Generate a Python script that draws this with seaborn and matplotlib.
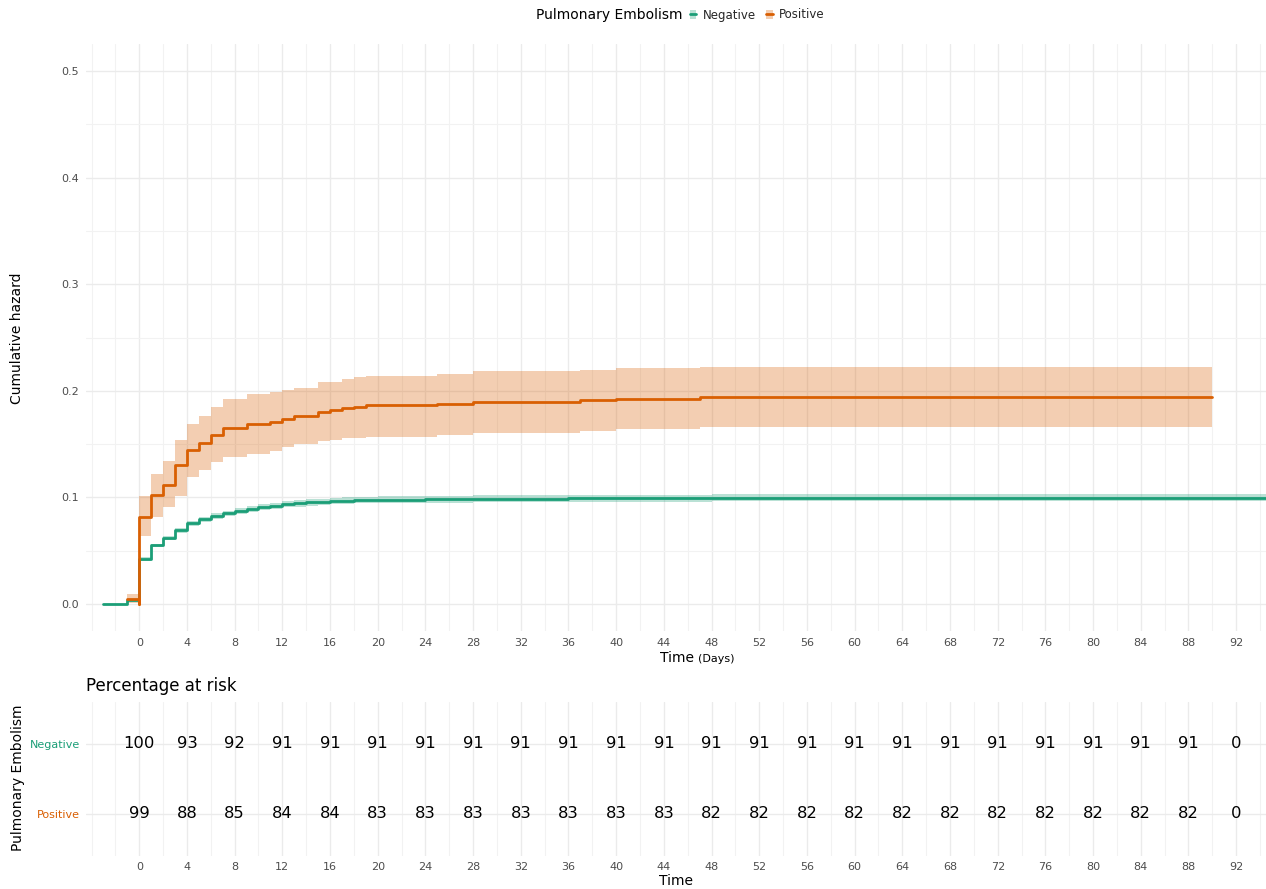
import matplotlib
matplotlib.use("Agg")
import matplotlib.pyplot as plt
import seaborn as sns
import pandas as pd
from matplotlib.patches import Patch
from matplotlib.lines import Line2D
from matplotlib.ticker import FixedLocator, FormatStrFormatter

sns.set_theme(style="white")
plt.rcParams["font.family"] = ["DejaVu Sans"]

# Group names and colours
groups = ["Negative", "Positive"]
group_colors = {"Negative": "#1B9E77", "Positive": "#D95F02"}

# Cumulative hazard, PE negative (step times, estimate, 95% band)
neg_time = [-3, -1, 0, 1, 2, 3, 4, 5, 6, 7, 8, 9, 10, 11, 12, 13, 14, 15, 16,
            17, 18, 20, 24, 28, 36, 48, 95]
neg_haz = [0.0, 0.004, 0.0422, 0.0550, 0.0620, 0.0690, 0.0757, 0.0795, 0.0826,
           0.0851, 0.0872, 0.0891, 0.0907, 0.0922, 0.0935, 0.0945, 0.0954,
           0.0960, 0.0966, 0.0971, 0.0976, 0.0980, 0.0984, 0.0988, 0.0992,
           0.0996, 0.0996]
neg_lo = [0.0, 0.003, 0.0405, 0.0532, 0.0600, 0.0668, 0.0734, 0.0771, 0.0801,
          0.0825, 0.0845, 0.0864, 0.0879, 0.0893, 0.0906, 0.0915, 0.0924,
          0.0930, 0.0935, 0.0940, 0.0945, 0.0948, 0.0952, 0.0956, 0.0960,
          0.0964, 0.0964]
neg_hi = [0.0, 0.005, 0.0439, 0.0568, 0.0640, 0.0712, 0.0780, 0.0819, 0.0851,
          0.0877, 0.0899, 0.0918, 0.0935, 0.0951, 0.0964, 0.0975, 0.0984,
          0.0990, 0.0997, 0.1002, 0.1007, 0.1012, 0.1016, 0.1020, 0.1024,
          0.1028, 0.1028]

# Cumulative hazard, PE positive
pos_time = [-1, 0, 0, 1, 2, 3, 4, 5, 6, 7, 9, 11, 12, 13, 15, 16, 17, 18, 19,
            25, 28, 37, 40, 47, 90]
pos_haz = [0.005, 0.0, 0.082, 0.102, 0.112, 0.130, 0.1445, 0.151, 0.1585,
           0.165, 0.1685, 0.171, 0.174, 0.176, 0.1804, 0.182, 0.1842, 0.1851,
           0.1867, 0.1876, 0.1898, 0.1910, 0.1925, 0.1938, 0.1938]
pos_lo = [0.001, 0.0, 0.064, 0.082, 0.091, 0.101, 0.119, 0.126, 0.1335, 0.138,
          0.141, 0.1435, 0.147, 0.150, 0.153, 0.154, 0.1554, 0.1555, 0.157,
          0.1585, 0.160, 0.1625, 0.1642, 0.1658, 0.1658]
pos_hi = [0.009, 0.0, 0.101, 0.122, 0.134, 0.154, 0.169, 0.176, 0.185, 0.192,
          0.1967, 0.1992, 0.201, 0.203, 0.208, 0.208, 0.211, 0.2133, 0.2142,
          0.2158, 0.2186, 0.2195, 0.221, 0.2226, 0.2226]

# Percentage at risk table
risk_times = list(range(0, 93, 4))
neg_risk = [100, 93, 92] + [91] * 20 + [0]
pos_risk = [99, 88, 85, 84, 84, 83, 83, 83, 83, 83, 83, 83] + [82] * 11 + [0]

x_ticks = list(range(0, 93, 4))
x_minor = list(range(-4, 96, 2))
y_ticks = [0.0, 0.1, 0.2, 0.3, 0.4, 0.5]
y_minor = [0.05, 0.15, 0.25, 0.35, 0.45]

W, H = 1266, 889


def box(left, top, right, bottom):
    return [left / W, 1 - bottom / H, (right - left) / W, (bottom - top) / H]


fig = plt.figure(figsize=(W / 100, H / 100), dpi=100)
ax = fig.add_axes(box(85.6, 44.4, 1266, 630.7))
tab = fig.add_axes(box(85.6, 702, 1266, 856))

grid_major = dict(color="#EBEBEB", linewidth=1.0)
grid_minor = dict(color="#F2F2F2", linewidth=0.8)

# ---- cumulative hazard panel ----
curves = {
    "Negative": (neg_time, neg_haz, neg_lo, neg_hi),
    "Positive": (pos_time, pos_haz, pos_lo, pos_hi),
}
for g in groups:
    t, h, lo, hi = curves[g]
    ax.fill_between(t, lo, hi, step="post", color=group_colors[g],
                    alpha=0.3, linewidth=0, zorder=2)
for g in groups:
    t, h, lo, hi = curves[g]
    df = pd.DataFrame({"time": t, "hazard": h})
    sns.lineplot(data=df, x="time", y="hazard", estimator=None, sort=False,
                 drawstyle="steps-post", color=group_colors[g], linewidth=2.0,
                 ax=ax, legend=False, zorder=3)

ax.set_xlim(-4.5, 94.5)
ax.set_ylim(-0.025, 0.525)
ax.xaxis.set_major_locator(FixedLocator(x_ticks))
ax.xaxis.set_minor_locator(FixedLocator(x_minor))
ax.yaxis.set_major_locator(FixedLocator(y_ticks))
ax.yaxis.set_minor_locator(FixedLocator(y_minor))
ax.yaxis.set_major_formatter(FormatStrFormatter("%.1f"))
ax.grid(which="major", **grid_major)
ax.grid(which="minor", **grid_minor)
ax.set_axisbelow(True)
for s in ax.spines.values():
    s.set_visible(False)
ax.tick_params(which="major", length=3, width=0.9, color="#333333",
               labelsize=8, labelcolor="#4D4D4D", pad=2)
ax.tick_params(which="minor", length=0)
ax.set_xlabel("")
ax.set_ylabel("")

fig.text(17 / W, 1 - 338 / H, "Cumulative hazard", rotation=90,
         ha="center", va="center", fontsize=10, color="black")
fig.text(694 / W, 1 - 662 / H, "Time", ha="right", va="baseline",
         fontsize=10, color="black")
fig.text(698 / W, 1 - 662 / H, "(Days)", ha="left", va="baseline",
         fontsize=8, color="black")

# Legend along the top
fig.text(682 / W, 1 - 15 / H, "Pulmonary Embolism", ha="right", va="center",
         fontsize=10, color="black")
handles = [(Patch(facecolor=group_colors[g], alpha=0.3, edgecolor="none"),
            Line2D([], [], color=group_colors[g], linewidth=2.0))
           for g in groups]
fig.legend(handles, groups, loc="center left",
           bbox_to_anchor=(690 / W, 1 - 15 / H), ncol=2, frameon=False,
           fontsize=8.5, handlelength=0.55, handleheight=0.9,
           handletextpad=0.5, columnspacing=0.9, borderpad=0,
           borderaxespad=0)

# ---- risk table panel ----
rows = {"Negative": (1, neg_risk), "Positive": (2, pos_risk)}
for g in groups:
    yrow, vals = rows[g]
    for t, v in zip(risk_times, vals):
        tab.text(t, yrow, str(v), ha="center", va="center", fontsize=11.8,
                 color="black")
tab.set_xlim(-4.5, 94.5)
tab.set_ylim(2.6, 0.4)
tab.xaxis.set_major_locator(FixedLocator(x_ticks))
tab.xaxis.set_minor_locator(FixedLocator(x_minor))
tab.set_yticks([1, 2])
tab.set_yticklabels(groups)
for lbl, g in zip(tab.get_yticklabels(), groups):
    lbl.set_color(group_colors[g])
tab.grid(which="major", **grid_major)
tab.grid(which="minor", axis="x", **grid_minor)
tab.set_axisbelow(True)
for s in tab.spines.values():
    s.set_visible(False)
tab.tick_params(axis="x", which="major", length=0, labelsize=8,
                labelcolor="#4D4D4D", pad=4)
tab.tick_params(axis="y", which="major", length=0, labelsize=8, pad=4)
tab.tick_params(which="minor", length=0)
tab.set_ylabel("")

fig.text(18 / W, 1 - 778 / H, "Pulmonary Embolism", rotation=90,
         ha="center", va="center", fontsize=10, color="black")
fig.text(86 / W, 1 - 686 / H, "Percentage at risk", ha="left", va="center",
         fontsize=12, color="black")
fig.text(676 / W, 1 - 881 / H, "Time", ha="center", va="center",
         fontsize=10, color="black")

fig.savefig("out.png", dpi=100)
